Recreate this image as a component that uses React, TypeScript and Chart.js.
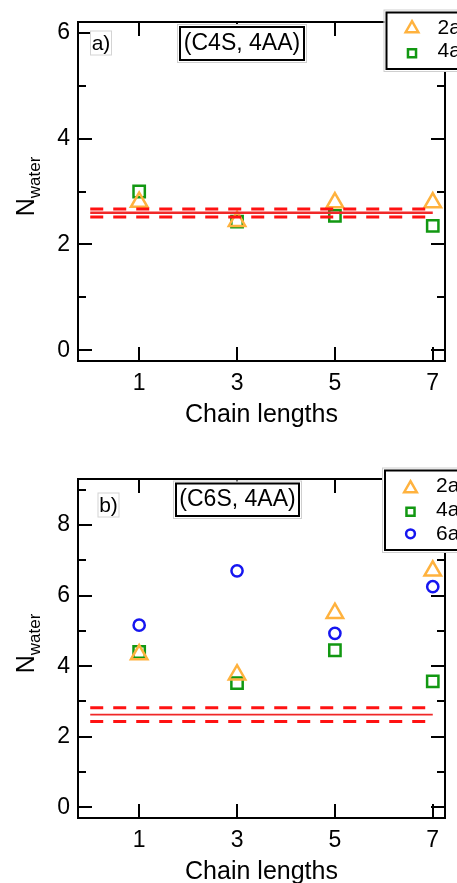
import React, { useEffect, useRef } from 'react';
import { Chart, registerables } from 'chart.js';

Chart.register(...registerables);

const FONT = '"Liberation Sans", Arial, Helvetica, sans-serif';

// ---------- data ----------
const chainLengths = [1, 3, 5, 7];
const xTickValues = [1, 3, 5, 7];
const xTickLabels = ['1', '3', '5', '7'];
const xMin = -0.25;
const xMax = 7.25;
const refLineSpan = [0, 7];
const seriesLabels = ['2aa', '4aa', '6aa'];
const xTitle = 'Chain lengths';
const yTitleMain = 'N';
const yTitleSub = 'water';

// panel a: (C4S, 4AA)
const aTag = 'a)';
const aTitle = '(C4S, 4AA)';
const a2aValues = [2.8, 2.44, 2.79, 2.79];
const a4aValues = [3.0, 2.43, 2.54, 2.35];
const aRefMean = 2.6;
const aRefUpper = 2.67;
const aRefLower = 2.52;
const aYTickValues = [0, 1, 2, 3, 4, 5, 6];
const aYTickLabels = ['0', '', '2', '', '4', '', '6'];
const aYMin = -0.2;
const aYMax = 6.2;

// panel b: (C6S, 4AA)
const bTag = 'b)';
const bTitle = '(C6S, 4AA)';
const b2aValues = [4.33, 3.76, 5.5, 6.7];
const b4aValues = [4.4, 3.52, 4.45, 3.57];
const b6aValues = [5.16, 6.7, 4.93, 6.25];
const bRefMean = 2.63;
const bRefUpper = 2.82;
const bRefLower = 2.43;
const bYTickValues = [0, 1, 2, 3, 4, 5, 6, 7, 8, 9];
const bYTickLabels = ['0', '', '2', '', '4', '', '6', '', '8', ''];
const bYMin = -0.3;
const bYMax = 9.3;

// ---------- styles ----------
const ORANGE = 'rgb(255,178,62)';
const GREEN = 'rgb(18,152,18)';
const BLUE = 'rgb(22,22,240)';
const RED = 'rgb(255,18,18)';

const seriesStyles = [
  { color: ORANGE, pointStyle: 'triangle', radius: 9.5, legendRadius: 7.3 },
  { color: GREEN, pointStyle: 'rect', radius: 8, legendRadius: 5.7 },
  { color: BLUE, pointStyle: 'circle', radius: 5.6, legendRadius: 4.4 },
];

type PanelSpec = {
  tag: string;
  title: string;
  series: number[][];
  refMean: number;
  refUpper: number;
  refLower: number;
  yTicks: number[];
  yLabels: string[];
  yMin: number;
  yMax: number;
  meanWidth: number;
  deco: any;
};

const panels: PanelSpec[] = [
  {
    tag: aTag, title: aTitle, series: [a2aValues, a4aValues],
    refMean: aRefMean, refUpper: aRefUpper, refLower: aRefLower,
    yTicks: aYTickValues, yLabels: aYTickLabels, yMin: aYMin, yMax: aYMax,
    meanWidth: 2.5,
    deco: {
      tagBox: [90.5, 31, 21, 24], tagText: [101, 44],
      titleBox: [180, 27, 124, 33], titleText: [242, 44],
      legendBox: [386.5, 12.5, 200, 56.5],
      legendMarkerX: 412, legendTextX: 437.5,
      legendRows: [28.5, 53.3],
      legendTextRows: [27.8, 50.8],
    },
  },
  {
    tag: bTag, title: bTitle, series: [b2aValues, b4aValues, b6aValues],
    refMean: bRefMean, refUpper: bRefUpper, refLower: bRefLower,
    yTicks: bYTickValues, yLabels: bYTickLabels, yMin: bYMin, yMax: bYMax,
    meanWidth: 1.8,
    deco: {
      tagBox: [98, 36, 21, 24], tagText: [108.5, 49],
      titleBox: [176, 26.5, 123, 32.5], titleText: [237.5, 43],
      legendBox: [385, 13.5, 200, 79.5],
      legendMarkerX: 410.5, legendTextX: 436,
      legendRows: [31.5, 54.7, 76.8],
      legendTextRows: [28.8, 53, 77],
    },
  },
];

function drawMarker(ctx: CanvasRenderingContext2D, style: string, x: number, y: number, r: number, color: string, lw: number) {
  ctx.save();
  ctx.strokeStyle = color;
  ctx.lineWidth = lw;
  ctx.beginPath();
  if (style === 'triangle') {
    ctx.moveTo(x, y - r);
    ctx.lineTo(x + 0.866 * r, y + 0.5 * r);
    ctx.lineTo(x - 0.866 * r, y + 0.5 * r);
    ctx.closePath();
  } else if (style === 'rect') {
    const s = r * Math.SQRT1_2;
    ctx.rect(x - s, y - s, 2 * s, 2 * s);
  } else {
    ctx.arc(x, y, r, 0, Math.PI * 2);
  }
  ctx.stroke();
  ctx.restore();
}

const decoPlugin = {
  id: 'deco',
  afterDatasetsDraw(chart: any, _args: any, opts: any) {
    const ctx: CanvasRenderingContext2D = chart.ctx;
    const { left, right, top, bottom } = chart.chartArea;
    const xs = chart.scales.x;
    const ys = chart.scales.y;
    ctx.save();
    ctx.strokeStyle = '#000';
    ctx.lineWidth = 2;
    ctx.lineCap = 'butt';
    // inward ticks on all four sides
    ctx.beginPath();
    ys.ticks.forEach((t: any, i: number) => {
      const py = Math.round(ys.getPixelForValue(t.value));
      const len = opts.yLabels[i] ? 14 : 8;
      ctx.moveTo(left, py);
      ctx.lineTo(left + len, py);
      ctx.moveTo(right, py);
      ctx.lineTo(right - len, py);
    });
    xs.ticks.forEach((t: any) => {
      const px = Math.round(xs.getPixelForValue(t.value));
      ctx.moveTo(px, bottom);
      ctx.lineTo(px, bottom - 14);
      ctx.moveTo(px, top);
      ctx.lineTo(px, top + 14);
    });
    ctx.stroke();
    // frame
    ctx.strokeRect(left, top, right - left, bottom - top);
    ctx.restore();
  },
  afterDraw(chart: any, _args: any, opts: any) {
    const ctx: CanvasRenderingContext2D = chart.ctx;
    const d = opts.deco;
    const { top, bottom } = chart.chartArea;
    ctx.save();
    // y axis title N_water
    const midY = (top + bottom) / 2 - 5;
    ctx.fillStyle = '#000';
    ctx.font = `25px ${FONT}`;
    const wN = ctx.measureText(yTitleMain).width;
    ctx.font = `17px ${FONT}`;
    const wSub = ctx.measureText(yTitleSub).width;
    const total = wN + wSub;
    ctx.translate(34, midY);
    ctx.rotate(-Math.PI / 2);
    ctx.textBaseline = 'alphabetic';
    ctx.textAlign = 'left';
    ctx.font = `25px ${FONT}`;
    ctx.fillText(yTitleMain, -total / 2, 0);
    ctx.font = `17px ${FONT}`;
    ctx.fillText(yTitleSub, -total / 2 + wN, 6);
    ctx.restore();

    ctx.save();
    // tag box
    const [tx, ty, tw, th] = d.tagBox;
    ctx.fillStyle = '#fff';
    ctx.fillRect(tx, ty, tw, th);
    ctx.strokeStyle = '#d4d4d4';
    ctx.lineWidth = 1;
    ctx.strokeRect(tx, ty, tw, th);
    ctx.fillStyle = '#000';
    ctx.font = `21px ${FONT}`;
    ctx.textAlign = 'center';
    ctx.textBaseline = 'middle';
    ctx.fillText(opts.tag, d.tagText[0], d.tagText[1]);

    // title box
    const [bx, by, bw, bh] = d.titleBox;
    ctx.fillStyle = '#fff';
    ctx.fillRect(bx - 2, by - 2, bw + 4, bh + 4);
    ctx.strokeStyle = '#cfcfcf';
    ctx.lineWidth = 1;
    ctx.strokeRect(bx - 2.5, by - 2.5, bw + 5, bh + 5);
    ctx.strokeStyle = '#000';
    ctx.lineWidth = 2;
    ctx.strokeRect(bx, by, bw, bh);
    ctx.fillStyle = '#000';
    ctx.font = `23px ${FONT}`;
    ctx.fillText(opts.title, d.titleText[0], d.titleText[1]);

    // legend
    const [lx, ly, lw, lh] = d.legendBox;
    ctx.fillStyle = '#fff';
    ctx.fillRect(lx - 2, ly - 2, lw + 4, lh + 4);
    ctx.strokeStyle = '#cfcfcf';
    ctx.lineWidth = 1;
    ctx.strokeRect(lx - 2.5, ly - 2.5, lw + 5, lh + 5);
    ctx.strokeStyle = '#000';
    ctx.lineWidth = 2;
    ctx.strokeRect(lx, ly, lw, lh);
    opts.series.forEach((_s: number[], i: number) => {
      const st = seriesStyles[i];
      drawMarker(ctx, st.pointStyle, d.legendMarkerX, d.legendRows[i], st.legendRadius, st.color, 2.5);
      ctx.fillStyle = '#000';
      ctx.font = `21px ${FONT}`;
      ctx.textAlign = 'left';
      ctx.textBaseline = 'middle';
      ctx.fillText(seriesLabels[i], d.legendTextX, d.legendTextRows[i]);
    });
    ctx.restore();
  },
};

function refLine(value: number, dashed: boolean, width: number) {
  return {
    label: '',
    data: refLineSpan.map((x) => ({ x, y: value })),
    showLine: true,
    borderColor: dashed ? RED : 'rgb(240,40,40)',
    borderWidth: width,
    borderDash: dashed ? [13, 10] : [],
    pointRadius: 0,
    fill: false,
  };
}

function Panel({ spec, topPx }: { spec: PanelSpec; topPx: number }) {
  const ref = useRef<HTMLCanvasElement | null>(null);
  useEffect(() => {
    if (!ref.current) return;
    const datasets: any[] = [
      refLine(spec.refUpper, true, 3),
      refLine(spec.refMean, false, spec.meanWidth),
      refLine(spec.refLower, true, 3),
    ];
    spec.series.forEach((vals, i) => {
      const st = seriesStyles[i];
      datasets.push({
        label: seriesLabels[i],
        data: chainLengths.map((x, j) => ({ x, y: vals[j] })),
        showLine: false,
        pointStyle: st.pointStyle,
        pointRadius: st.radius,
        pointBorderWidth: 2.5,
        pointBorderColor: st.color,
        pointBackgroundColor: 'rgba(0,0,0,0)',
        borderColor: st.color,
        backgroundColor: 'rgba(0,0,0,0)',
      });
    });
    const chart = new Chart(ref.current, {
      type: 'scatter',
      data: { datasets },
      options: {
        animation: false,
        responsive: false,
        devicePixelRatio: 1,
        events: [],
        layout: { padding: { left: 0, top: 22, right: 12, bottom: 0 } },
        plugins: {
          legend: { display: false },
          tooltip: { enabled: false },
          deco: { deco: spec.deco, tag: spec.tag, title: spec.title, series: spec.series, yLabels: spec.yLabels },
        } as any,
        scales: {
          x: {
            type: 'linear',
            min: xMin,
            max: xMax,
            grid: { display: false, drawTicks: false },
            border: { display: false },
            afterBuildTicks: (s: any) => { s.ticks = xTickValues.map((v) => ({ value: v })); },
            afterFit: (s: any) => { s.height = 96; },
            ticks: {
              autoSkip: false,
              maxRotation: 0,
              padding: 9,
              color: '#000',
              font: { family: FONT, size: 23 },
              callback: (_v: any, i: number) => xTickLabels[i],
            },
            title: {
              display: true,
              text: xTitle,
              color: '#000',
              font: { family: FONT, size: 25 },
              padding: { top: 0, bottom: 27 },
            },
          },
          y: {
            type: 'linear',
            min: spec.yMin,
            max: spec.yMax,
            grid: { display: false, drawTicks: false },
            border: { display: false },
            afterBuildTicks: (s: any) => { s.ticks = spec.yTicks.map((v) => ({ value: v })); },
            afterFit: (s: any) => { s.width = 78; },
            ticks: {
              autoSkip: false,
              padding: 8,
              color: '#000',
              font: { family: FONT, size: 23 },
              callback: (_v: any, i: number) => spec.yLabels[i],
            },
          },
        },
      },
      plugins: [decoPlugin as any],
    });
    return () => chart.destroy();
  }, [spec]);
  return (
    <canvas
      ref={ref}
      width={457}
      height={457}
      style={{ position: 'absolute', left: 0, top: topPx, width: 457, height: 457, display: 'block' }}
    />
  );
}

export default function App() {
  return (
    <div style={{ position: 'absolute', left: 0, top: 0, width: 457, height: 883, overflow: 'hidden', background: '#fff' }}>
      <Panel spec={panels[0]} topPx={0} />
      <Panel spec={panels[1]} topPx={457} />
    </div>
  );
}
